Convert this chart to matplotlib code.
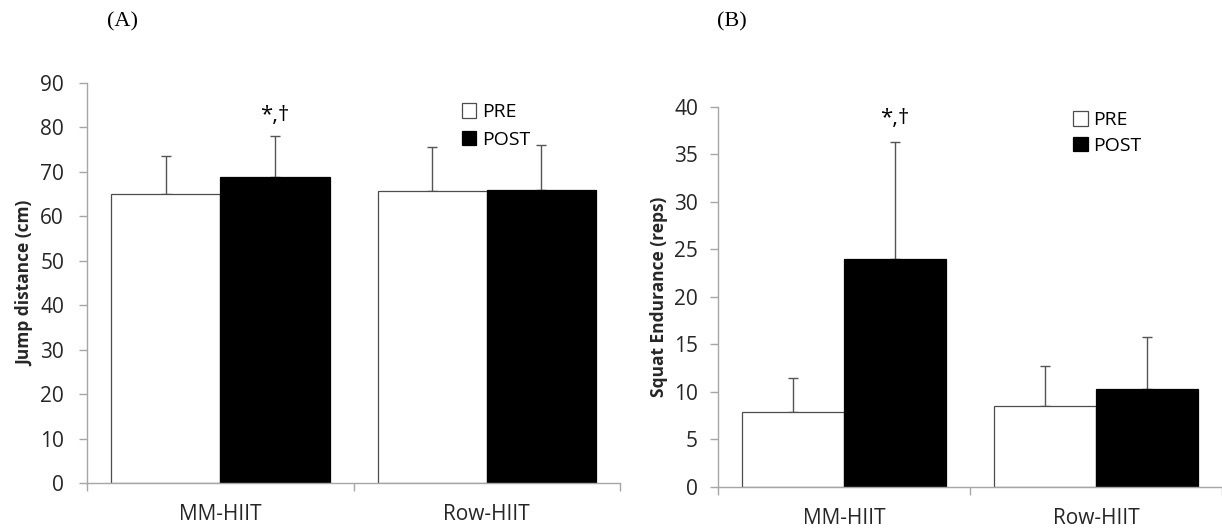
import matplotlib.pyplot as plt
import numpy as np

plt.rcParams['font.family'] = ['Open Sans', 'DejaVu Sans']

groups = ['MM-HIIT', 'Row-HIIT']

# Panel A: jump distance (cm)
jump_pre = [65.0, 65.6]
jump_post = [68.8, 66.0]
jump_pre_sd = [8.5, 10.1]
jump_post_sd = [9.3, 10.0]

# Panel B: squat endurance (reps)
squat_pre = [7.9, 8.5]
squat_post = [24.0, 10.3]
squat_pre_sd = [3.6, 4.2]
squat_post_sd = [12.3, 5.5]

axis_col = '#a6a6a6'
text_col = '#262626'


def panel(ax, pre, post, pre_sd, post_sd, ylim, ystep, ylabel, width, ypad):
    x = np.arange(len(groups))
    ax.bar(x - width / 2, pre, width, color='white', edgecolor='#4d4d4d', linewidth=0.9, label='PRE', zorder=2)
    ax.bar(x + width / 2, post, width, color='black', edgecolor='black', linewidth=0.9, label='POST', zorder=2)
    ax.errorbar(x - width / 2, pre, yerr=[np.zeros(2), pre_sd], fmt='none',
                ecolor='#555555', elinewidth=1, capsize=3.5, capthick=1, zorder=1)
    ax.errorbar(x + width / 2, post, yerr=[np.zeros(2), post_sd], fmt='none',
                ecolor='#555555', elinewidth=1, capsize=3.5, capthick=1, zorder=1)
    ax.set_xlim(-0.5, 1.5)
    ax.set_ylim(*ylim)
    ax.set_yticks(np.arange(ylim[0], ylim[1] + 0.1, ystep))
    ax.set_xticks(x)
    ax.set_xticklabels(groups)
    ax.set_xticks([-0.5, 0.5, 1.5], minor=True)
    ax.tick_params(axis='x', which='major', length=0, pad=15, labelsize=15, labelcolor=text_col)
    ax.tick_params(axis='x', which='minor', length=6, color=axis_col, width=1)
    ax.tick_params(axis='y', length=6, color=axis_col, width=1, labelsize=15, labelcolor=text_col, pad=ypad)
    for s in ['top', 'right']:
        ax.spines[s].set_visible(False)
    for s in ['left', 'bottom']:
        ax.spines[s].set_color(axis_col)
        ax.spines[s].set_linewidth(1)
    ax.set_ylabel(ylabel, fontsize=12.5, fontweight='bold', color=text_col, labelpad=4)


fig = plt.figure(figsize=(12.22, 5.31), dpi=100)
ax1 = fig.add_axes([0.0712, 0.0904, 0.4362, 0.7533])
ax2 = fig.add_axes([0.5876, 0.0829, 0.4124, 0.7156])

panel(ax1, jump_pre, jump_post, jump_pre_sd, jump_post_sd, (0, 90), 10, 'Jump distance (cm)', 0.41, 10.5)
panel(ax2, squat_pre, squat_post, squat_pre_sd, squat_post_sd, (0, 40), 5, 'Squat Endurance (reps)', 0.405, 8.5)

ax1.text(0 + 0.205, 82.6, '*,†', ha='center', va='center', fontsize=16, color='black')
ax2.text(0 + 0.2025, 38.8, '*,†', ha='center', va='center', fontsize=16, color='black')

ax1.legend(loc='upper left', bbox_to_anchor=(0.67, 0.993), frameon=False, fontsize=14,
           handlelength=0.75, handleheight=0.75, handletextpad=0.3, labelspacing=0.5)
ax2.legend(loc='upper left', bbox_to_anchor=(0.67, 1.035), frameon=False, fontsize=14,
           handlelength=0.75, handleheight=0.75, handletextpad=0.3, labelspacing=0.4)

fig.text(0.0876, 0.958, '(A)', fontsize=16, family='Liberation Serif', va='center', ha='left')
fig.text(0.5867, 0.958, '(B)', fontsize=16, family='Liberation Serif', va='center', ha='left')

fig.savefig('out.png', dpi=100)
